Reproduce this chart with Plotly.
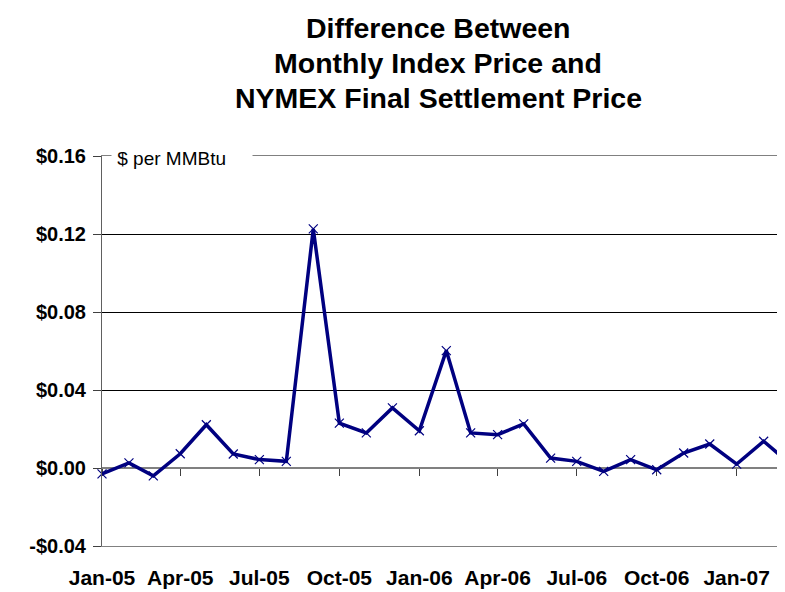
import plotly.graph_objects as go

months = ["2005-01-01", "2005-02-01", "2005-03-01", "2005-04-01", "2005-05-01", "2005-06-01",
          "2005-07-01", "2005-08-01", "2005-09-01", "2005-10-01", "2005-11-01", "2005-12-01",
          "2006-01-01", "2006-02-01", "2006-03-01", "2006-04-01", "2006-05-01", "2006-06-01",
          "2006-07-01", "2006-08-01", "2006-09-01", "2006-10-01", "2006-11-01", "2006-12-01",
          "2007-01-01", "2007-02-01", "2007-03-01"]
difference = [-0.003, 0.0026, -0.004, 0.0073, 0.0222, 0.0072,
              0.0043, 0.0034, 0.1226, 0.023, 0.018, 0.0308,
              0.0191, 0.0602, 0.018, 0.0171, 0.0226, 0.0051,
              0.0034, -0.0017, 0.0043, -0.0009, 0.0077, 0.0123,
              0.002, 0.0137, 0.0031]
tick_dates = ["2005-01-01", "2005-04-01", "2005-07-01", "2005-10-01", "2006-01-01",
              "2006-04-01", "2006-07-01", "2006-10-01", "2007-01-01"]
tick_labels = ["Jan-05", "Apr-05", "Jul-05", "Oct-05", "Jan-06",
               "Apr-06", "Jul-06", "Oct-06", "Jan-07"]
y_ticks = [-0.04, 0.0, 0.04, 0.08, 0.12, 0.16]
y_tick_labels = ["-$0.04", "$0.00", "$0.04", "$0.08", "$0.12", "$0.16"]
title_lines = ["Difference Between", "Monthly Index Price and", "NYMEX Final Settlement Price"]

FONT = "Arial, Liberation Sans, sans-serif"
x_range = [months[0], months[-1]]
y_range = [-0.04, 0.16]

fig = go.Figure()
fig.add_trace(go.Scatter(
    x=months, y=difference, mode="lines+markers",
    line=dict(color="#000080", width=3.5),
    marker=dict(symbol="x-thin-open", size=9, line=dict(color="#1a1aa0", width=1.2)),
    showlegend=False, cliponaxis=False,
))

fig.update_layout(
    width=785, height=592,
    margin=dict(l=94, r=5, t=148, b=54),
    paper_bgcolor="white", plot_bgcolor="white",
    font=dict(family=FONT, color="black"),
    xaxis=dict(
        type="date", range=x_range, tickvals=tick_dates, ticktext=tick_labels,
        ticks="", showgrid=False, zeroline=False,
        showline=True, mirror=True, linecolor="#808080", linewidth=1,
        tickfont=dict(family=FONT, size=21, weight="bold", color="black"),
        ticklabelstandoff=13,
    ),
    xaxis2=dict(
        type="date", range=x_range, overlaying="x", anchor="free", position=0.2,
        tickvals=tick_dates, showticklabels=False, ticks="outside", ticklen=7,
        tickcolor="#404040", tickwidth=1, showgrid=False, zeroline=False,
        showline=True, linecolor="#808080", linewidth=2, layer="below traces",
    ),
    yaxis=dict(
        range=y_range, tickvals=y_ticks, ticktext=y_tick_labels,
        ticks="outside", ticklen=8, tickcolor="#404040",
        showgrid=True, gridcolor="black", gridwidth=1, zeroline=False,
        showline=True, mirror=True, linecolor="#606060", linewidth=1,
        tickfont=dict(family=FONT, size=20, weight="bold", color="black"),
        ticklabelstandoff=3,
    ),
)

# invisible point to activate the zero-level axis carrying the tick marks
fig.add_trace(go.Scatter(x=[months[0]], y=[0], xaxis="x2", mode="markers",
                         marker=dict(opacity=0), showlegend=False, hoverinfo="skip"))

for line_text, ypos in zip(title_lines, [1.3292, 1.2377, 1.148]):
    fig.add_annotation(
        text=line_text, xref="paper", yref="paper", x=0.49, y=ypos,
        xanchor="center", yanchor="middle", showarrow=False,
        font=dict(family=FONT, size=28.5, weight="bold", color="black"),
    )

fig.add_annotation(
    text="\u00a0$ per MMBtu\u00a0\u00a0\u00a0\u00a0\u00a0", xref="paper", yref="paper",
    x=0.013, y=1.0, xanchor="left", yanchor="middle", yshift=-2, showarrow=False,
    bgcolor="white", borderpad=0,
    font=dict(family=FONT, size=19, color="black"),
)

fig.write_html("out.html")
